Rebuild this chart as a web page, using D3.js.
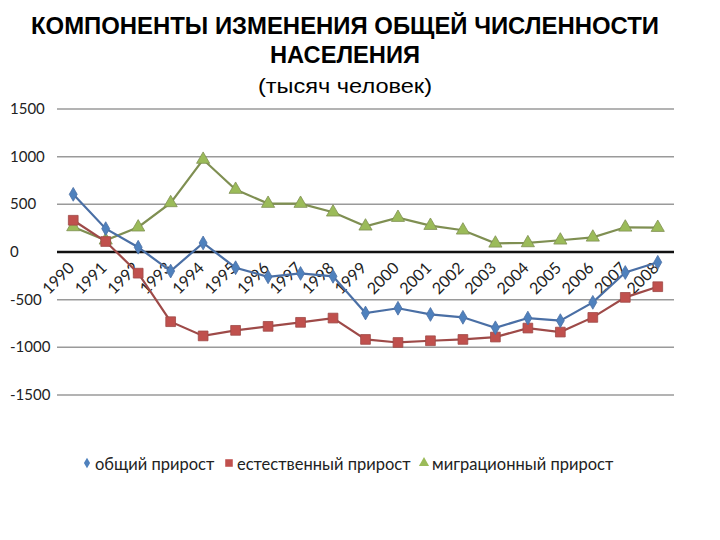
<!DOCTYPE html>
<html><head><meta charset="utf-8">
<script src="https://cdn.jsdelivr.net/npm/d3@7/dist/d3.min.js"></script>
<style>body{margin:0;background:#fff}</style>
</head><body>
<svg id="c" width="720" height="540"></svg>
<script>
const years = ["1990","1991","1992","1993","1994","1995","1996","1997","1998","1999","2000","2001","2002","2003","2004","2005","2006","2007","2008"];
const total = [605,245,50,-200,95,-165,-260,-225,-255,-640,-590,-655,-685,-795,-693,-720,-528,-215,-108];
const natural = [333,110,-222,-731,-880,-822,-780,-738,-693,-917,-949,-931,-917,-892,-798,-840,-686,-476,-364];
const migration = [263,123,260,515,970,655,508,508,417,270,361,277,228,91,95,123,154,259,256];
const yTicks = [1500,1000,500,0,-500,-1000,-1500];
const seriesNames = ["общий прирост","естественный прирост","миграционный прирост"];
const titleLines = ["КОМПОНЕНТЫ ИЗМЕНЕНИЯ ОБЩЕЙ ЧИСЛЕННОСТИ","НАСЕЛЕНИЯ"];
const subtitle = "(тысяч человек)";

const svg = d3.select("#c");
const font = "Lato, 'Open Sans', sans-serif";
const tfont = "'Liberation Sans', Arial, sans-serif";
const x = d3.scaleBand().domain(years).range([57,674]);
const y = d3.scaleLinear().domain([-1500,1500]).range([395,109]);
const cx = d => x(d) + x.bandwidth()/2;

// title
svg.append("text").attr("x",345).attr("y",34).attr("text-anchor","middle")
  .attr("font-family",tfont).attr("font-weight","bold").attr("font-size",24)
  .attr("textLength",628).attr("lengthAdjust","spacingAndGlyphs").text(titleLines[0]);
svg.append("text").attr("x",345).attr("y",63).attr("text-anchor","middle")
  .attr("font-family",tfont).attr("font-weight","bold").attr("font-size",24)
  .attr("textLength",150).attr("lengthAdjust","spacingAndGlyphs").text(titleLines[1]);
svg.append("text").attr("x",345).attr("y",93).attr("text-anchor","middle")
  .attr("font-family",tfont).attr("font-size",21)
  .attr("textLength",174).attr("lengthAdjust","spacingAndGlyphs").text(subtitle);

// gridlines
const grid = svg.append("g");
grid.selectAll("line").data(yTicks.filter(v=>v!==0)).join("line")
  .attr("x1",57).attr("x2",674).attr("y1",d=>y(d)).attr("y2",d=>y(d))
  .attr("stroke","#9a9a9a").attr("stroke-width",1.5);

// y tick labels
svg.append("g").selectAll("text").data(yTicks).join("text")
  .attr("x",10).attr("y",d=>y(d)+5).attr("font-family",font).attr("font-size",15).attr("fill","#222")
  .text(d=>d);

// x tick labels (rotated)
svg.append("g").selectAll("text").data(years).join("text")
  .attr("transform",d=>`translate(${cx(d)+2},${y(0)+17}) rotate(-45)`)
  .attr("text-anchor","end").attr("font-family",font).attr("font-size",16).attr("fill","#222")
  .text(d=>d);

// zero axis
svg.append("line").attr("x1",57).attr("x2",674).attr("y1",y(0)).attr("y2",y(0))
  .attr("stroke","#111").attr("stroke-width",2.5);

const line = d3.line().x((d,i)=>cx(years[i])).y(d=>y(d));
const series = [
  {name:seriesNames[0], data:total, stroke:"#4a6fa5", fill:"#4F81BD", shape:d3.symbolDiamond, size:55},
  {name:seriesNames[1], data:natural, stroke:"#9e4a48", fill:"#C0504D", shape:d3.symbolSquare, size:95},
  {name:seriesNames[2], data:migration, stroke:"#7f8f52", fill:"#9BBB59", shape:d3.symbolTriangle, size:75},
];
// draw in reverse so blue on top
[series[2],series[1],series[0]].forEach(s=>{
  svg.append("path").datum(s.data).attr("d",line).attr("fill","none")
    .attr("stroke",s.stroke).attr("stroke-width",2.2);
  svg.append("g").selectAll("path").data(s.data).join("path")
    .attr("transform",(d,i)=>`translate(${cx(years[i])},${y(d)})`)
    .attr("d",d3.symbol().type(s.shape).size(s.size)).attr("fill",s.fill).attr("stroke",s.stroke).attr("stroke-width",0.8);
});

// legend
const legX = [87,229,424];
const leg = svg.append("g");
series.forEach((s,i)=>{
  leg.append("path").attr("transform",`translate(${legX[i]},463)`)
    .attr("d",d3.symbol().type(s.shape).size(s.size*0.6)).attr("fill",s.fill);
  leg.append("text").attr("x",legX[i]+8).attr("y",470).attr("font-family",font).attr("font-size",16.5).attr("fill","#222")
    .text(s.name);
});
</script>
</body></html>
